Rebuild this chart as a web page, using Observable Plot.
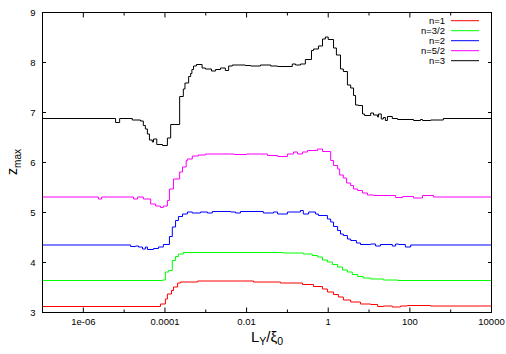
<!DOCTYPE html>
<html><head><meta charset="utf-8">
<script src="https://cdn.jsdelivr.net/npm/d3@7"></script>
<script src="https://cdn.jsdelivr.net/npm/@observablehq/plot@0.6"></script>
<style>body{margin:0;background:#fff} svg{display:block;overflow:visible}</style>
</head><body><div id="chart"></div>
<script>
// series: [log10(L_Y/xi_0), z_max] breakpoints (histogram steps)
const seriesNames = ["n=1", "n=3/2", "n=2", "n=5/2", "n=3"];
const seriesColors = ["#ff0000", "#00ff00", "#0000ff", "#ff00ff", "#000000"];

const n1 = [[-7,3.12],[-4.11,3.17],[-3.99,3.27],[-3.94,3.37],[-3.84,3.44],[-3.79,3.51],[-3.69,3.59],[-3.62,3.61],[-3.20,3.63],[-1.83,3.61],[-1.17,3.59],[-0.63,3.56],[-0.36,3.52],[-0.14,3.47],[-0.02,3.41],[0.13,3.36],[0.25,3.31],[0.37,3.25],[0.55,3.21],[0.79,3.17],[1.04,3.16],[1.21,3.12],[1.35,3.13],[1.57,3.11],[1.77,3.13],[1.94,3.14],[2.5,3.13],[4,3.13]];

const n32 = [[-7,3.64],[-4.06,3.65],[-3.99,3.81],[-3.91,3.84],[-3.82,4.04],[-3.74,4.12],[-3.67,4.17],[-3.55,4.20],[-1.10,4.19],[-0.61,4.17],[-0.39,4.14],[-0.26,4.11],[-0.14,4.05],[-0.02,4.01],[0.10,3.96],[0.23,3.91],[0.35,3.85],[0.47,3.81],[0.59,3.76],[0.72,3.72],[0.86,3.69],[1.04,3.67],[1.35,3.65],[1.70,3.64],[4,3.64]];

const n2 = [[-7,4.35],[-4.84,4.32],[-4.72,4.33],[-4.65,4.31],[-4.55,4.27],[-4.48,4.31],[-4.43,4.26],[-4.28,4.28],[-4.16,4.31],[-4.04,4.36],[-3.89,4.52],[-3.82,4.71],[-3.74,4.84],[-3.67,4.92],[-3.57,4.97],[-3.45,5.01],[-3.33,4.99],[-3.13,5.01],[-2.96,4.99],[-2.84,5.02],[-2.39,5.01],[-2.27,4.99],[-2.15,5.02],[-1.59,4.99],[-1.34,5.01],[-1.24,4.97],[-1.00,5.01],[-0.68,5.04],[-0.61,4.97],[-0.48,5.01],[-0.31,4.97],[-0.24,4.94],[-0.02,4.87],[0.06,4.81],[0.13,4.72],[0.23,4.64],[0.30,4.57],[0.37,4.54],[0.47,4.47],[0.55,4.44],[0.69,4.39],[0.79,4.36],[1.04,4.37],[1.16,4.33],[1.28,4.36],[1.57,4.33],[1.65,4.37],[1.72,4.36],[1.89,4.31],[2.02,4.35],[4,4.35]];

const n52 = [[-7,5.31],[-5.63,5.27],[-5.55,5.31],[-4.77,5.27],[-4.67,5.31],[-4.53,5.27],[-4.35,5.17],[-4.23,5.13],[-4.11,5.10],[-4.04,5.13],[-3.94,5.24],[-3.89,5.47],[-3.79,5.67],[-3.64,5.81],[-3.57,5.91],[-3.48,6.04],[-3.45,6.07],[-3.33,6.13],[-3.18,6.15],[-3.01,6.17],[-2.30,6.16],[-2.0,6.17],[-1.49,6.14],[-1.24,6.12],[-1.00,6.17],[-0.85,6.21],[-0.75,6.17],[-0.63,6.21],[-0.51,6.24],[-0.26,6.27],[-0.14,6.22],[0.06,6.04],[0.13,5.94],[0.23,5.87],[0.28,5.75],[0.37,5.69],[0.45,5.59],[0.55,5.54],[0.62,5.47],[0.72,5.44],[0.84,5.39],[0.96,5.35],[1.11,5.34],[1.65,5.30],[1.82,5.32],[2.09,5.29],[2.31,5.34],[2.58,5.31],[4,5.31]];

const n3 = [[-7,6.88],[-5.21,6.80],[-5.11,6.88],[-4.80,6.85],[-4.60,6.83],[-4.53,6.74],[-4.48,6.67],[-4.43,6.57],[-4.38,6.45],[-4.31,6.41],[-4.28,6.47],[-4.20,6.36],[-4.06,6.34],[-3.94,6.49],[-3.86,6.76],[-3.64,7.32],[-3.55,7.47],[-3.51,7.59],[-3.42,7.72],[-3.37,7.78],[-3.34,7.86],[-3.30,7.93],[-3.23,7.96],[-3.09,7.89],[-3.01,7.87],[-2.86,7.83],[-2.76,7.86],[-2.64,7.89],[-2.52,7.84],[-2.44,7.93],[-2.35,7.95],[-2.03,7.94],[-1.90,7.93],[-1.66,7.95],[-1.41,7.93],[-1.24,7.92],[-0.88,7.97],[-0.80,7.95],[-0.68,7.97],[-0.56,8.06],[-0.41,8.24],[-0.36,8.27],[-0.24,8.33],[-0.14,8.47],[-0.07,8.51],[0.00,8.46],[0.13,8.29],[0.20,8.15],[0.30,7.87],[0.37,7.82],[0.47,7.55],[0.55,7.49],[0.62,7.34],[0.67,7.15],[0.74,7.14],[0.84,6.97],[0.89,6.94],[1.04,6.99],[1.11,6.95],[1.21,6.91],[1.23,6.97],[1.30,6.87],[1.35,6.90],[1.40,6.84],[1.45,6.92],[1.57,6.88],[1.70,6.86],[2.09,6.84],[2.26,6.86],[2.31,6.84],[2.51,6.85],[2.82,6.88],[4,6.88]];

const xMajorTicks = [1e-6, 1e-4, 1e-2, 1, 100, 1e4];
const xMajorLabels = ["1e-06", "0.0001", "0.01", "1", "100", "10000"];
const xMinorTicks = [1e-5, 1e-3, 0.1, 10, 1000];
const yTicks = [3, 4, 5, 6, 7, 8, 9];

const seriesData = [n1, n32, n2, n52, n3];
const rows = [];
seriesData.forEach((arr, i) => arr.forEach(([e, z]) => rows.push({L: Math.pow(10, e), z, n: seriesNames[i]})));

const font = "'Liberation Sans', Arial, Helvetica, sans-serif";
const blank = () => "";

const svg = Plot.plot({
  width: 506, height: 354,
  marginLeft: 42, marginRight: 15, marginTop: 12, marginBottom: 42,
  style: {fontFamily: font, fontSize: "9.5px", background: "#fff", color: "#000"},
  x: {type: "log", domain: [1e-7, 1e4], label: null},
  y: {domain: [3, 9], label: null},
  color: {domain: seriesNames, range: seriesColors},
  marks: [
    Plot.line(rows, {x: "L", y: "z", z: "n", stroke: "n", curve: "step-after", strokeWidth: 1}),
    Plot.frame({stroke: "#000", strokeWidth: 1}),
    Plot.axisX(xMajorTicks, {anchor: "bottom", label: null, tickSize: 0, tickPadding: 6, tickFormat: d => xMajorLabels[xMajorTicks.indexOf(d)]}),
    Plot.axisX(xMajorTicks, {anchor: "bottom", label: null, tickSize: -4.5, tickFormat: blank}),
    Plot.axisX(xMajorTicks, {anchor: "top", label: null, tickSize: -4.5, tickFormat: blank}),
    Plot.axisX(xMinorTicks, {anchor: "bottom", label: null, tickSize: -2.5, tickFormat: blank}),
    Plot.axisX(xMinorTicks, {anchor: "top", label: null, tickSize: -2.5, tickFormat: blank}),
    Plot.axisY(yTicks, {anchor: "left", label: null, tickSize: 0, tickPadding: 7, tickFormat: d => String(d)}),
    Plot.axisY(yTicks, {anchor: "left", label: null, tickSize: -4, tickFormat: blank}),
    Plot.axisY(yTicks, {anchor: "right", label: null, tickSize: -4, tickFormat: blank})
  ]
});
document.getElementById("chart").appendChild(svg);

const s = d3.select(svg);
// y title: z_max
const yt = s.append("text").attr("transform", "translate(17,162) rotate(-90)")
  .attr("text-anchor", "middle").attr("font-family", font).attr("fill", "#000");
yt.append("tspan").attr("font-size", 14).text("z");
yt.append("tspan").attr("font-size", 10).attr("dy", 4).text("max");

// x title: L_Y/ξ_0
const xt = s.append("text").attr("x", 267).attr("y", 342)
  .attr("text-anchor", "middle").attr("font-family", font).attr("fill", "#000");
xt.append("tspan").attr("font-size", 15).text("L");
xt.append("tspan").attr("font-size", 10.5).attr("dy", 3).text("Y");
xt.append("tspan").attr("font-size", 15).attr("dy", -3).text("/ξ");
xt.append("tspan").attr("font-size", 10.5).attr("dy", 3).text("0");

// legend (top right, gnuplot style)
const lg = s.append("g").attr("font-family", font).attr("font-size", 9.5);
seriesNames.forEach((name, i) => {
  const y = 20.7 + 10 * i;
  lg.append("text").attr("x", 445).attr("y", y).attr("dy", "0.35em").attr("text-anchor", "end").attr("fill", "#000").text(name);
  lg.append("line").attr("x1", 451).attr("x2", 479).attr("y1", y).attr("y2", y).attr("stroke", seriesColors[i]).attr("stroke-width", 1);
});
</script></body></html>
